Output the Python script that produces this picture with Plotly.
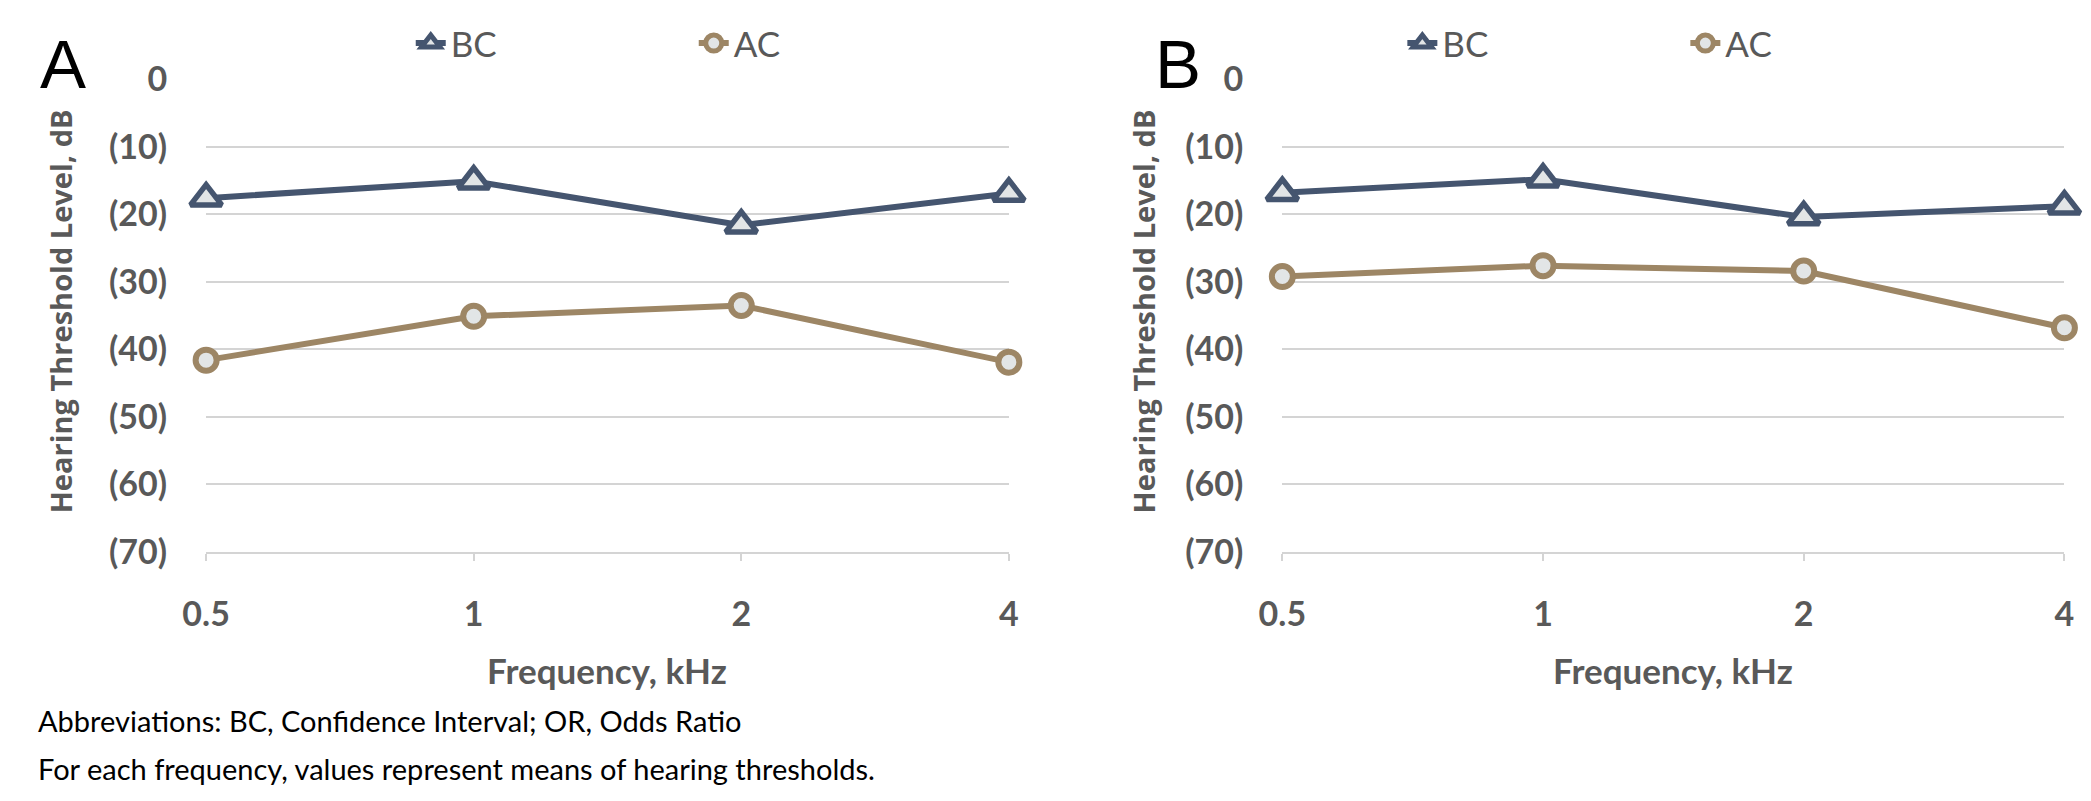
import plotly.graph_objects as go

# ---------------- data ----------------
frequencies = ["0.5", "1", "2", "4"]
bc_panel_a = [-17.6, -15.1, -21.6, -16.9]
ac_panel_a = [-41.6, -35.1, -33.5, -41.9]
bc_panel_b = [-16.8, -14.8, -20.4, -18.8]
ac_panel_b = [-29.2, -27.6, -28.4, -36.8]
y_tick_values = [0, -10, -20, -30, -40, -50, -60, -70]
y_tick_labels = ["0" if v == 0 else "(%d)" % (-v) for v in y_tick_values]
series_names = ["BC", "AC"]
panel_letters = ["A", "B"]
x_title = "Frequency, kHz"
y_title = "Hearing Threshold Level, dB"
footnotes = ["Abbreviations: BC, Confidence Interval; OR, Odds Ratio",
             "For each frequency, values represent means of hearing thresholds."]

# ---------------- style ----------------
W, H = 2091, 801
BC_COLOR = "#45556F"
AC_COLOR = "#9D8665"
FILL = "#E2E5E6"
GRID = "#D4D4D4"
TXT = "#595959"
FONT = "Lato"


def px(x):
    return x / W


def py(y):
    return 1 - y / H


plot_top, plot_bottom = 52, 550
panels = [
    dict(x0=177, x1=993, bc=bc_panel_a, ac=ac_panel_a, xa="x", ya="y", lg="legend",
         ytitle_x=29, letter_x=6, legend_x=385),
    dict(x0=1271, x1=2066, bc=bc_panel_b, ac=ac_panel_b, xa="x2", ya="y2", lg="legend2",
         ytitle_x=1130, letter_x=1140, legend_x=1393),
]

fig = go.Figure()
layout = dict(
    width=W, height=H, autosize=False,
    margin=dict(l=0, r=0, t=0, b=0),
    paper_bgcolor="white", plot_bgcolor="white",
    font=dict(family=FONT, color=TXT),
    annotations=[],
)

for i, p in enumerate(panels):
    for name, vals, color, symbol, size, lw in [
        (series_names[0], p["bc"], BC_COLOR, "triangle-up", 27, 5.5),
        (series_names[1], p["ac"], AC_COLOR, "circle", 21, 6),
    ]:
        fig.add_trace(go.Scatter(
            x=frequencies, y=vals, name=name, mode="lines+markers",
            xaxis=p["xa"], yaxis=p["ya"], legend=p["lg"],
            line=dict(color=color, width=6),
            marker=dict(symbol=symbol, size=size, color=FILL,
                        line=dict(color=color, width=lw)),
            cliponaxis=False,
        ))

    sfx = "" if i == 0 else str(i + 1)
    layout["xaxis" + sfx] = dict(
        type="category", range=[0, len(frequencies) - 1],
        domain=[px(p["x0"]), px(p["x1"])], anchor="y" + sfx,
        showgrid=False, zeroline=False,
        showline=True, linecolor=GRID, linewidth=2,
        ticks="outside", ticklen=7, tickwidth=2, tickcolor=GRID,
        ticklabelstandoff=24,
        tickfont=dict(family=FONT, size=34, color=TXT, weight="bold"),
    )
    layout["yaxis" + sfx] = dict(
        range=[-70, 0], domain=[py(plot_bottom), py(plot_top)], anchor="x" + sfx,
        tickvals=y_tick_values, ticktext=y_tick_labels,
        showgrid=True, gridcolor=GRID, gridwidth=2,
        zeroline=False, showline=False, ticks="",
        ticklabelstandoff=38,
        tickfont=dict(family=FONT, size=34, color=TXT, weight="bold"),
    )
    layout[p["lg"]] = dict(
        orientation="h", x=px(p["legend_x"]), y=py(14), xanchor="left", yanchor="middle",
        entrywidth=238, entrywidthmode="pixels",
        font=dict(family=FONT, size=35, color=TXT),
        bgcolor="rgba(0,0,0,0)",
    )
    # y title
    layout["annotations"].append(dict(
        text=y_title, textangle=-90, showarrow=False, xref="paper", yref="paper",
        x=px(p["ytitle_x"]), y=py((plot_top + plot_bottom) / 2 - 4),
        xanchor="center", yanchor="middle",
        font=dict(family="Open Sans", size=29, color=TXT, weight="bold"),
    ))
    # x title
    layout["annotations"].append(dict(
        text=x_title, showarrow=False, xref="paper", yref="paper",
        x=px((p["x0"] + p["x1"]) / 2), y=py(675),
        xanchor="center", yanchor="middle",
        font=dict(family=FONT, size=35, color=TXT, weight="bold"),
    ))
    # panel letter
    layout["annotations"].append(dict(
        text=panel_letters[i], showarrow=False, xref="paper", yref="paper",
        x=px(p["letter_x"]), y=py(36), xanchor="left", yanchor="middle",
        font=dict(family="Liberation Sans", size=69, color="black"),
    ))

for j, line in enumerate(footnotes):
    layout["annotations"].append(dict(
        text=line, showarrow=False, xref="paper", yref="paper",
        x=px(4), y=py(728 + 50 * j), xanchor="left", yanchor="middle",
        font=dict(family=FONT, size=29, color="black"),
    ))

fig.update_layout(**layout)
fig.write_html("out.html")
